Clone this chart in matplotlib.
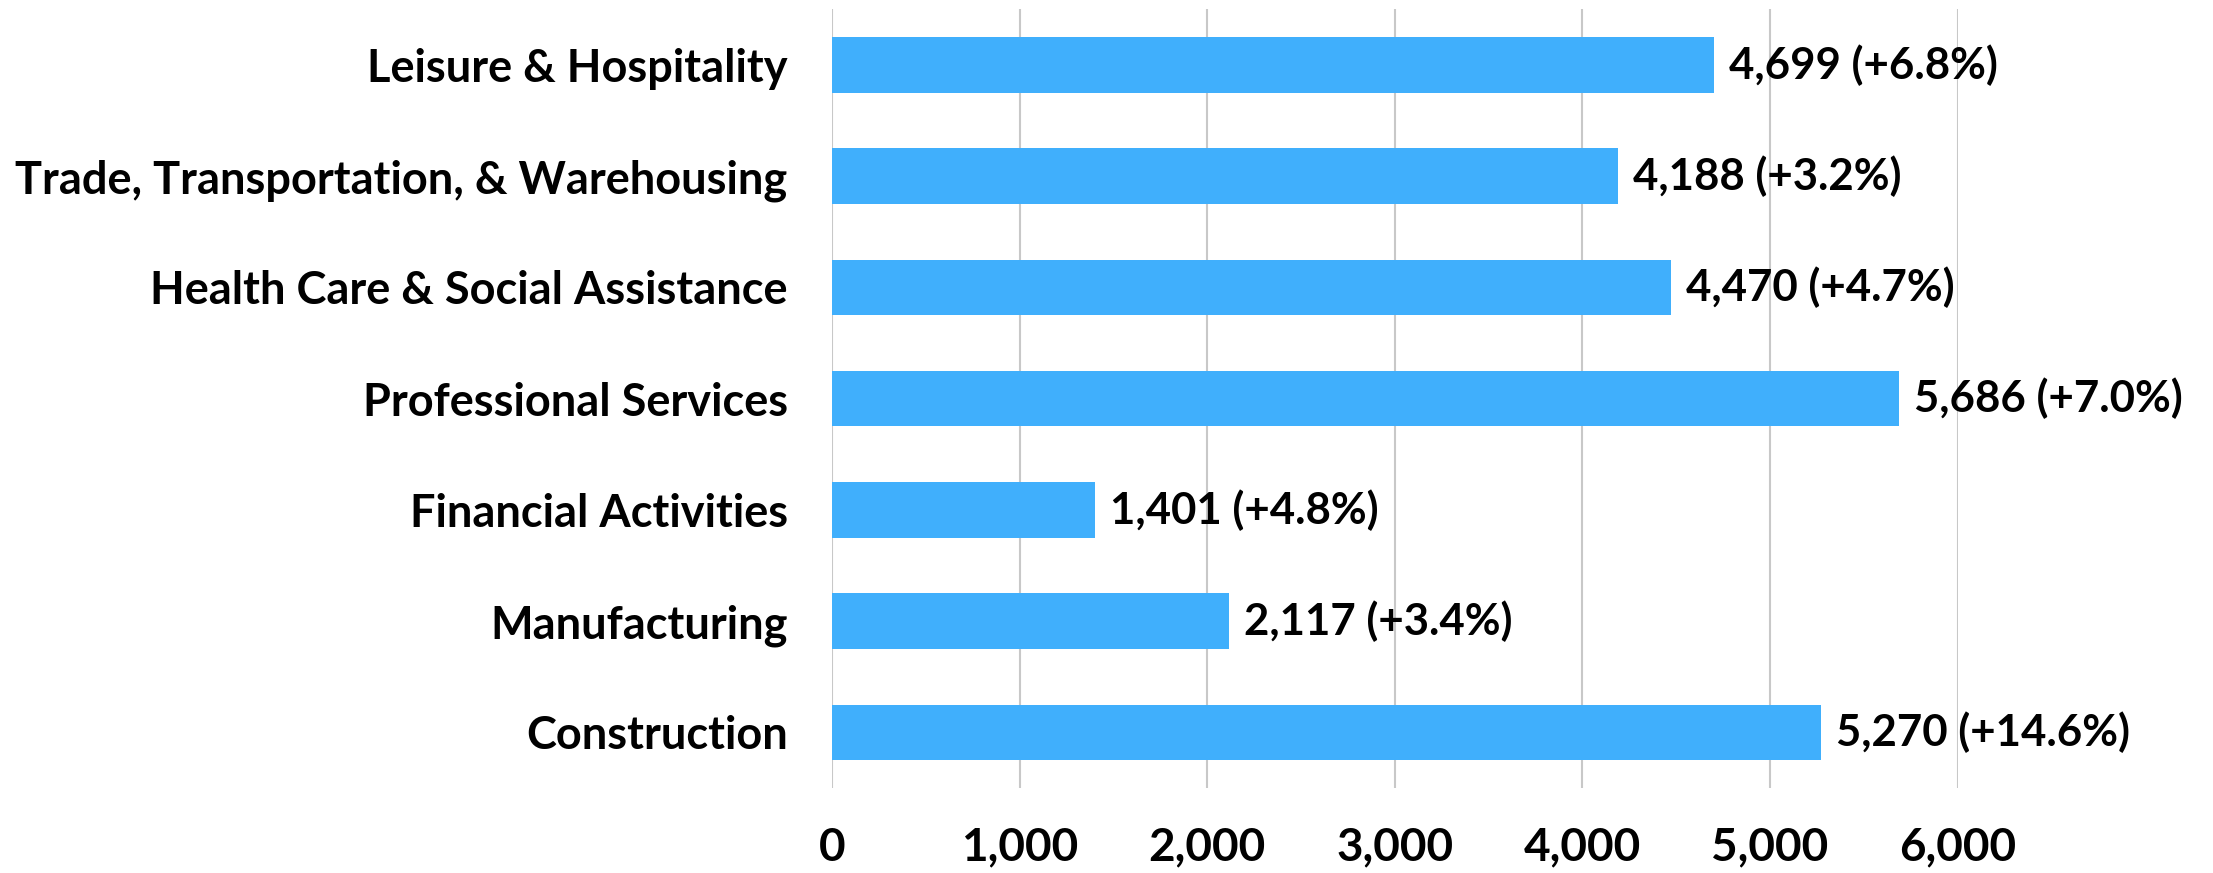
import matplotlib
matplotlib.use("Agg")
import matplotlib.pyplot as plt

# Data (top to bottom as shown)
categories = [
    "Leisure & Hospitality",
    "Trade, Transportation, & Warehousing",
    "Health Care & Social Assistance",
    "Professional Services",
    "Financial Activities",
    "Manufacturing",
    "Construction",
]
values = [4699, 4188, 4470, 5686, 1401, 2117, 5270]
pct_change = [6.8, 3.2, 4.7, 7.0, 4.8, 3.4, 14.6]
x_ticks = [0, 1000, 2000, 3000, 4000, 5000, 6000]

plt.rcParams['font.family'] = ['Lato', 'DejaVu Sans']
plt.rcParams['font.weight'] = 'bold'

fig = plt.figure(figsize=(22.13, 8.73), dpi=100)
ax = fig.add_axes([0.376, 0.0974, 0.5086, 0.8919])

n = len(categories)
y_pos = list(range(n - 1, -1, -1))

bars = ax.barh(y_pos, values, height=0.5, color='#40AFFC', zorder=2)

for y, v, p in zip(y_pos, values, pct_change):
    ax.text(v + 80, y, '{:,} (+{:.1f}%)'.format(v, p), va='center', ha='left',
            fontsize=31.5, fontweight='bold', color='#000000', clip_on=False, zorder=3)

ax.set_xlim(0, 6000)
ax.set_ylim(-0.5, n - 0.5)
ax.set_xticks(x_ticks)
ax.set_xticklabels(['{:,}'.format(t) for t in x_ticks], fontsize=33, fontweight='bold')
ax.set_yticks(y_pos)
ax.set_yticklabels(categories, fontsize=32.5, fontweight='bold')
ax.tick_params(axis='both', length=0)
ax.tick_params(axis='y', pad=32)
ax.tick_params(axis='x', pad=28)

ax.grid(axis='x', color='#C8C8C8', lw=1.5, zorder=0)
ax.set_axisbelow(True)
for s in ax.spines.values():
    s.set_visible(False)

fig.savefig('out.png', dpi=100)
plt.close()
